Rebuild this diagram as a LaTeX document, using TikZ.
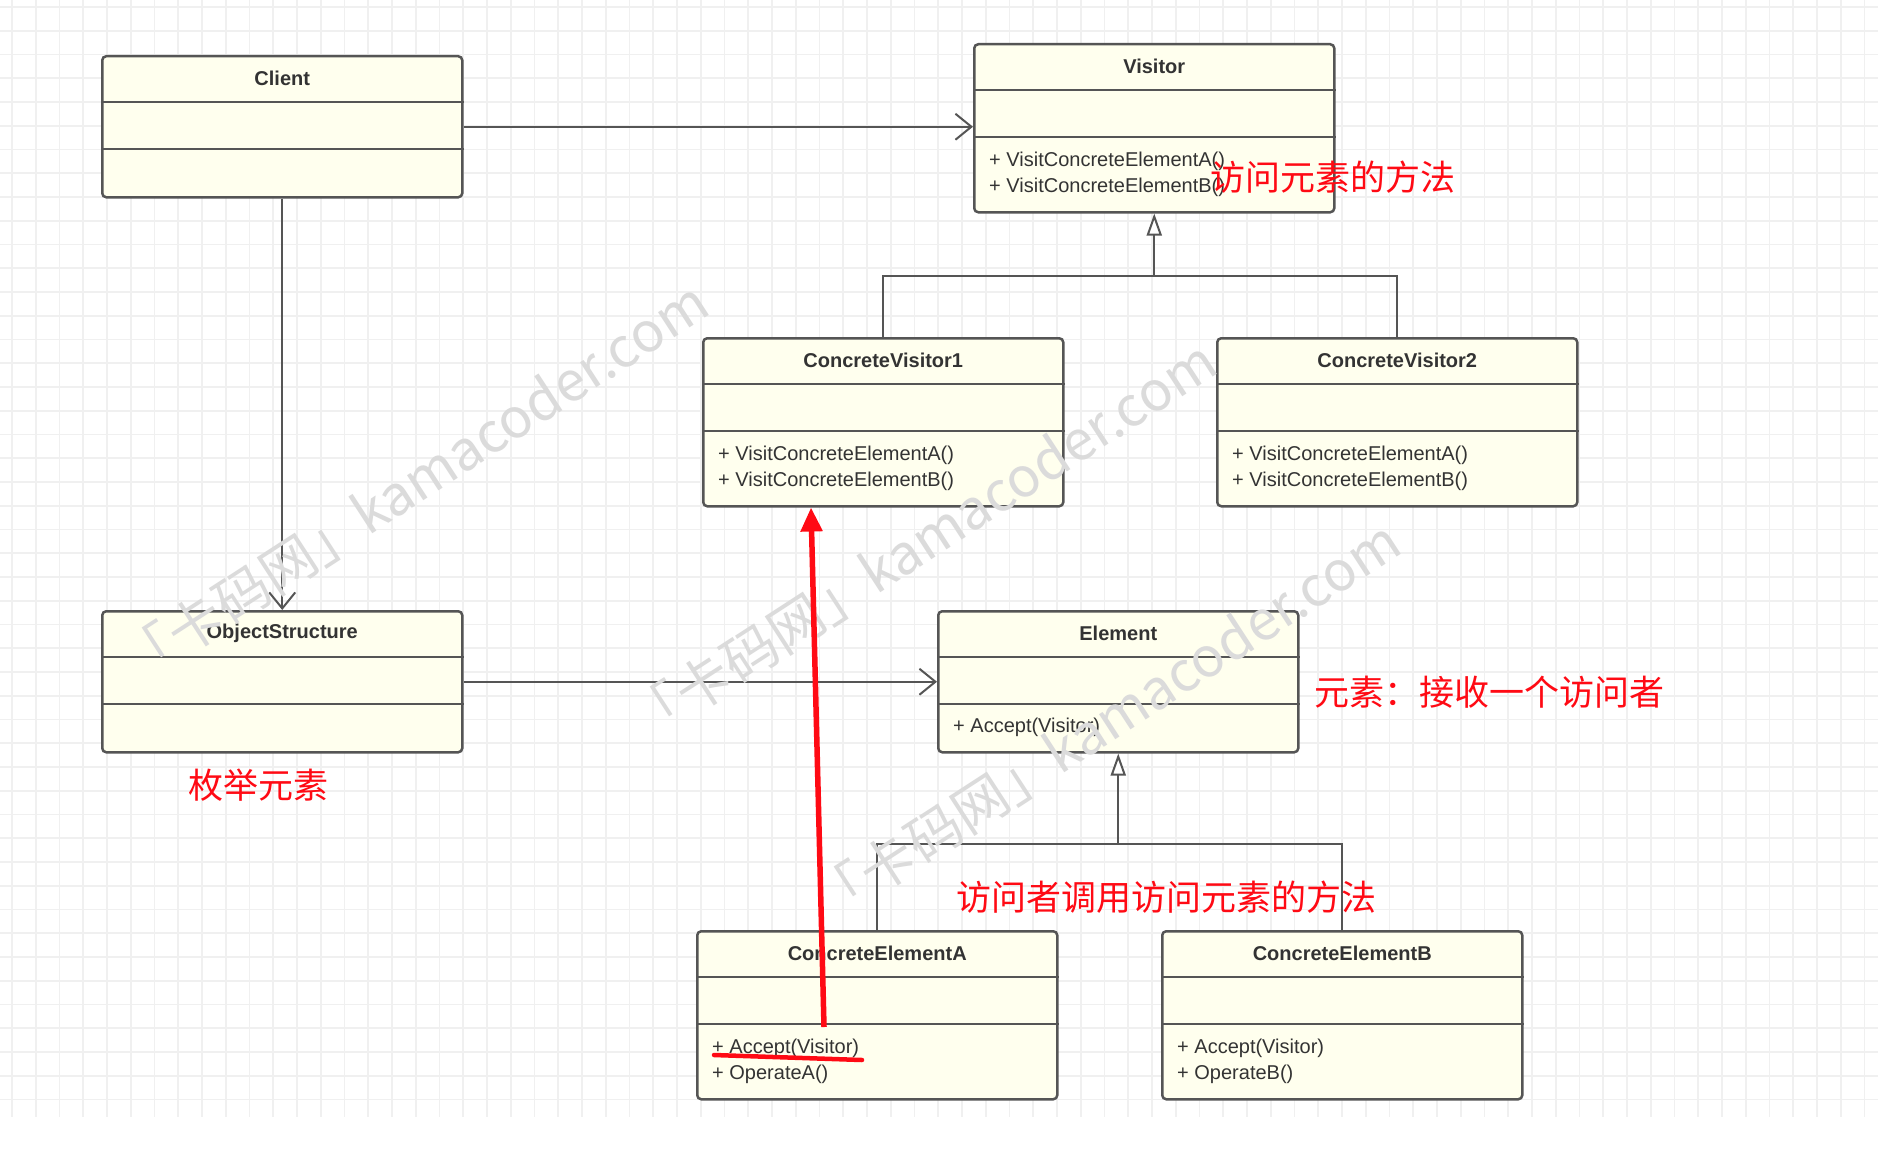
\documentclass[tikz,border=0pt]{standalone}
\usepackage{fontspec}
\newfontfamily\umlfont{Liberation Sans}
\newfontfamily\cjk{Noto Sans CJK SC}
\usepackage{tikz}
\usetikzlibrary{calc,arrows.meta}
\definecolor{boxfill}{HTML}{FFFFEE}
\definecolor{boxline}{HTML}{555555}
\definecolor{umltext}{HTML}{333333}
\definecolor{gridgray}{HTML}{F0F0F0}
\definecolor{notered}{HTML}{FF0A14}

\begin{document}
\begin{tikzpicture}[x=1pt,y=-1pt,
  umlbox/.style={draw=boxline,fill=boxfill,line width=2.5pt,rounded corners=4pt,
    minimum width=360pt,inner sep=0pt,anchor=north west},
  umltitle/.style={font=\umlfont\bfseries\fontsize{20}{24}\selectfont,text=umltext},
  umlmeth/.style={font=\umlfont\fontsize{20}{26}\selectfont,text=umltext,
    anchor=west,align=left,inner sep=0pt},
  divider/.style={draw=boxline,line width=2pt},
  genline/.style={draw=boxline,line width=2pt},
  assoc/.style={genline,-{Straight Barb[length=16pt,width=26pt]}},
  gen/.style={genline,-{Triangle[length=22pt,width=15pt,fill=white]}},
  note/.style={font=\cjk\fontsize{35}{40}\selectfont,text=notered,anchor=west,inner sep=0pt},
  wmark/.style={font=\cjk\fontsize{55}{60}\selectfont,text=black!14,rotate=33,inner sep=0pt},
  callarrow/.style={draw=notered,line width=5.5pt,-{Triangle[length=24pt,width=21pt]}}]
% --- canvas and grid paper ---
\useasboundingbox (0,0) rectangle (1878,1172);
\fill[white] (0,0) rectangle (1878,1172);
\foreach \gx in {12,35.75,...,1878} \draw[gridgray,line width=1.6pt] (\gx,0) -- (\gx,1117);
\foreach \gy in {7,30.75,...,1117} \draw[gridgray,line width=1.6pt] (0,\gy) -- (1878,\gy);
% --- the classes ---
\foreach \nm/\bx/\by/\bh/\cname/\mth in {
  client/101/55/141/Client/{},
  visitor/973/43/168/Visitor/{+ VisitConcreteElementA()\\+ VisitConcreteElementB()},
  cvone/702/337/168/ConcreteVisitor1/{+ VisitConcreteElementA()\\+ VisitConcreteElementB()},
  cvtwo/1216/337/168/ConcreteVisitor2/{+ VisitConcreteElementA()\\+ VisitConcreteElementB()},
  objstr/101/610/141/ObjectStructure/{},
  element/937/610/141/Element/{+ Accept(Visitor)},
  cea/696/930/168/ConcreteElementA/{+ Accept(Visitor)\\+ OperateA()},
  ceb/1161/930/168/ConcreteElementB/{+ Accept(Visitor)\\+ OperateB()}}
{
  \node[umlbox,minimum height=\bh] (\nm) at (\bx,\by) {};
  \node[umltitle] (\nm-title) at ($(\nm.north)+(0,23)$) {\cname};
  \draw[divider] ($(\nm.north west)+(0,47)$) -- ($(\nm.north east)+(0,47)$);
  \draw[divider] ($(\nm.north west)+(0,94)$) -- ($(\nm.north east)+(0,94)$);
  \node[umlmeth] (\nm-ops) at ($(\nm.north west)+(16,{47+\bh/2})$) {\mth};
}
% --- associations ---
\draw[assoc] (client.east) -- (client.east -| visitor.west);
\draw[assoc] (client.south) -- (objstr.north);
\draw[assoc] (objstr.east) -- (objstr.east -| element.west);
% --- generalisations ---
\coordinate (vbar) at ($(visitor.south)+(0,62)$);
\draw[genline] (cvone.north) |- (vbar) -| (cvtwo.north);
\draw[gen] (vbar) -- (visitor.south);
\coordinate (ebar) at ($(element.south)+(0,90)$);
\draw[genline] (cea.north) |- (ebar) -| (ceb.north);
\draw[gen] (ebar) -- (element.south);
% --- watermark ---
\foreach \wx/\wy [count=\i] in {414/482, 922/541, 1106/721}
  \node[wmark] (wm\i) at (\wx,\wy) {「卡码网」kamacoder.com};
% --- red notes ---
\coordinate (callfrom) at (824,1027);
\draw[callarrow] (callfrom) -- ($(cvone.south west)+(109,0)$);
\coordinate (ulstart) at (714,1055);
\coordinate (ulend) at (862,1060);
\draw[notered,line width=4.5pt,line cap=round] (ulstart) -- (ulend);
\node[note] (notevisit) at (1210,177) {访问元素的方法};
\node[note] (noteelem) at (1314,692) {元素：接收一个访问者};
\node[note] (noteenum) at (188,785) {枚举元素};
\node[note] (notecall) at (956,897) {访问者调用访问元素的方法};
\end{tikzpicture}
\end{document}
